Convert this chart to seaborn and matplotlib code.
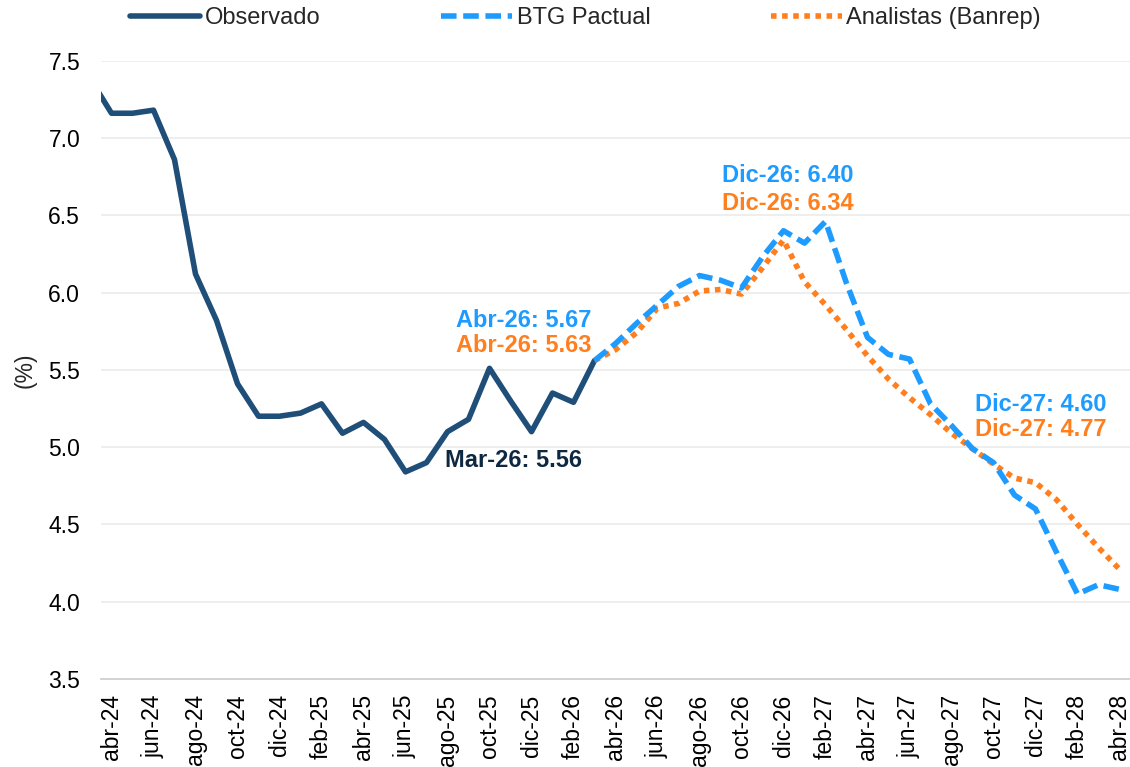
import numpy as np
import pandas as pd
import matplotlib
matplotlib.use("Agg")
import matplotlib.pyplot as plt
from matplotlib.lines import Line2D
import seaborn as sns

# meses (mar-24 ... abr-28); mar-24 queda recortado a la izquierda
nombres_mes = ["ene", "feb", "mar", "abr", "may", "jun", "jul", "ago", "sep", "oct", "nov", "dic"]
meses = [f"{nombres_mes[(2 + i) % 12]}-{24 + (2 + i) // 12}" for i in range(50)]

# inflación observada (mar-24 ... mar-26)
observado = [7.38, 7.16, 7.16, 7.18, 6.86, 6.12, 5.82, 5.41, 5.20, 5.20,
             5.22, 5.28, 5.09, 5.16, 5.05, 4.84, 4.90, 5.10, 5.18, 5.51,
             5.30, 5.10, 5.35, 5.29, 5.56]

# proyecciones (mar-26 ... abr-28)
btg = [5.56, 5.67, 5.80, 5.92, 6.04, 6.11, 6.08, 6.03, 6.23, 6.40,
       6.32, 6.46, 6.06, 5.71, 5.60, 5.57, 5.28, 5.14, 4.99, 4.90,
       4.69, 4.60, 4.32, 4.05, 4.11, 4.08]
analistas = [5.56, 5.63, 5.74, 5.90, 5.93, 6.01, 6.02, 5.99, 6.16, 6.34,
             6.07, 5.92, 5.76, 5.59, 5.44, 5.32, 5.21, 5.09, 4.99, 4.89,
             4.80, 4.77, 4.66, 4.50, 4.35, 4.21]

C_OBS = "#1F4E79"
C_BTG = "#1E9BFF"
C_BAN = "#FF7F1E"
C_TXT_OBS = "#0E2841"

pos = np.arange(len(meses)) - 1
n_obs = len(observado)
df = pd.DataFrame({"pos": pos, "mes": meses})
df["Observado"] = observado + [np.nan] * (len(meses) - n_obs)
df["BTG Pactual"] = [np.nan] * (n_obs - 1) + btg
df["Analistas (Banrep)"] = [np.nan] * (n_obs - 1) + analistas

sns.set_theme(style="white")
plt.rcParams["font.family"] = ["Liberation Sans", "DejaVu Sans"]

fig = plt.figure(figsize=(11.3, 7.67), dpi=100)
ax = fig.add_axes([101 / 1130, 88 / 767, 1029 / 1130, 618.3 / 767])

lw = 4.0
dash_btg = [2.8, 1.2]
dash_ban = [1, 1]
sns.lineplot(data=df, x="pos", y="Observado", color=C_OBS, linewidth=lw, ax=ax)
ax.lines[-1].set_solid_joinstyle("round")
sns.lineplot(data=df, x="pos", y="Analistas (Banrep)", color=C_BAN, linewidth=lw, ax=ax)
ax.lines[-1].set_dashes(dash_ban)
sns.lineplot(data=df, x="pos", y="BTG Pactual", color=C_BTG, linewidth=lw, ax=ax)
ax.lines[-1].set_dashes(dash_btg)

ax.set_xlim(-0.5, 48.5)
ax.set_ylim(3.5, 7.5)

yt = np.arange(3.5, 7.51, 0.5)
ax.set_yticks(yt)
ax.set_yticklabels([f"{v:.1f}" for v in yt])
ax.set_xticks(pos[1::2])
ax.set_xticklabels(meses[1::2], rotation=90)
ax.set_xticks(np.arange(-0.5, 48, 2), minor=True)

ax.tick_params(axis="y", length=0, pad=15, labelsize=16.5, colors="black")
ax.tick_params(axis="x", which="major", length=0, pad=11, labelsize=16.5, colors="black")
ax.tick_params(axis="x", which="minor", length=4, width=1.2, color="#D0D0D0", direction="out")

ax.grid(axis="y", color="#EDEDED", linewidth=1.3)
ax.set_axisbelow(True)
for s in ["top", "right", "left"]:
    ax.spines[s].set_visible(False)
ax.spines["bottom"].set_color("#D0D0D0")
ax.spines["bottom"].set_linewidth(1.3)

ax.set_xlabel("")
ax.set_ylabel("(%)", fontsize=16.5)
ax.yaxis.set_label_coords(-0.063, 0.5)

# anotaciones
fs = 17
ax.text(19.64, 5.779, "Abr-26: 5.67", color=C_BTG, fontsize=fs, fontweight="bold", ha="center", va="baseline")
ax.text(19.64, 5.618, "Abr-26: 5.63", color=C_BAN, fontsize=fs, fontweight="bold", ha="center", va="baseline")
ax.text(19.12, 4.874, "Mar-26: 5.56", color=C_TXT_OBS, fontsize=fs, fontweight="bold", ha="center", va="baseline")
ax.text(32.19, 6.717, "Dic-26: 6.40", color=C_BTG, fontsize=fs, fontweight="bold", ha="center", va="baseline")
ax.text(32.19, 6.534, "Dic-26: 6.34", color=C_BAN, fontsize=fs, fontweight="bold", ha="center", va="baseline")
ax.text(44.24, 5.234, "Dic-27: 4.60", color=C_BTG, fontsize=fs, fontweight="bold", ha="center", va="baseline")
ax.text(44.24, 5.072, "Dic-27: 4.77", color=C_BAN, fontsize=fs, fontweight="bold", ha="center", va="baseline")

handles = [
    Line2D([], [], color=C_OBS, linewidth=lw, solid_capstyle="round"),
    Line2D([], [], color=C_BTG, linewidth=lw, dashes=dash_btg),
    Line2D([], [], color=C_BAN, linewidth=lw, dashes=dash_ban),
]
fig.legend(handles, ["Observado", "BTG Pactual", "Analistas (Banrep)"],
           loc="center", bbox_to_anchor=(0.518, 0.9765), ncol=3, frameon=False,
           fontsize=17, handlelength=3.0, handletextpad=0.2, columnspacing=5.1)

fig.savefig("out.png", dpi=100)
